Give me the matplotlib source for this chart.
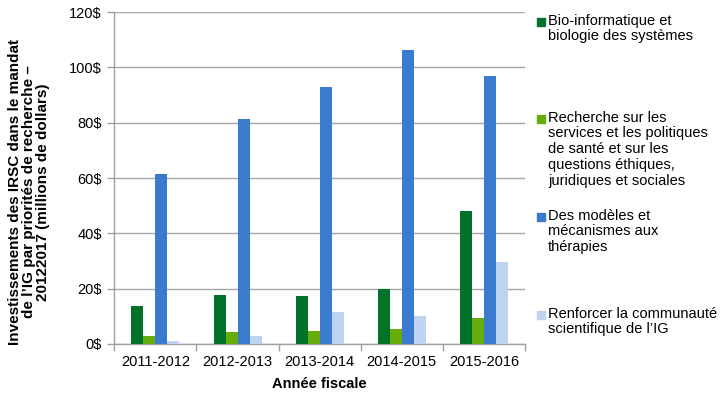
import matplotlib
matplotlib.use("Agg")
import matplotlib.pyplot as plt
import numpy as np
from matplotlib.patches import Rectangle

plt.rcParams['font.family'] = ['Liberation Sans', 'DejaVu Sans']

years = ["2011-2012", "2012-2013", "2013-2014", "2014-2015", "2015-2016"]
bio = [13.8, 17.7, 17.4, 19.9, 48.1]
services = [2.9, 4.3, 4.7, 5.4, 9.4]
modeles = [61.5, 81.4, 93.0, 106.4, 97.0]
renforcer = [1.1, 2.9, 11.6, 10.1, 29.7]

series = [bio, services, modeles, renforcer]
labels = [
    "Bio-informatique et\nbiologie des systèmes",
    "Recherche sur les\nservices et les politiques\nde santé et sur les\nquestions éthiques,\njuridiques et sociales",
    "Des modèles et\nmécanismes aux\nthérapies",
    "Renforcer la communauté\nscientifique de l’IG",
]
colors = ["#00722A", "#66AC0A", "#3A7BD0", "#BDD3EF"]
yticks = [0, 20, 40, 60, 80, 100, 120]
ytick_labels = ["0$", "20$", "40$", "60$", "80$", "100$", "120$"]

fig = plt.figure(figsize=(7.24, 3.98), dpi=100)
ax = fig.add_axes([0.158, 0.1357, 0.567, 0.834])

x = np.arange(len(years))
w = 0.146
for i, (vals, c) in enumerate(zip(series, colors)):
    ax.bar(x + (i - 1.5) * w, vals, width=w, color=c, zorder=3)

ax.set_xlim(-0.5, len(years) - 0.5)
ax.set_ylim(0, 120)
ax.set_yticks(yticks)
ax.set_yticklabels(ytick_labels, fontsize=10.5)
ax.set_xticks(x)
ax.set_xticklabels(years, fontsize=10.5)
ax.tick_params(axis='x', length=0, pad=8)
ax.set_xticks(np.arange(-0.5, len(years), 1.0), minor=True)
ax.tick_params(axis='x', which='minor', length=5, color='#A0A0A0', width=1)
ax.tick_params(axis='y', length=5, color='#A0A0A0', width=1, pad=4)
ax.yaxis.grid(True, color='#A6A6A6', linewidth=1, zorder=0)
ax.set_axisbelow(True)
for s in ['top', 'right']:
    ax.spines[s].set_visible(False)
for s in ['left', 'bottom']:
    ax.spines[s].set_color('#A0A0A0')
    ax.spines[s].set_linewidth(1)

ax.set_xlabel("Année fiscale", fontsize=10.5, fontweight='bold', labelpad=6)
fig.text(0.040, 0.518,
         "Investissements des IRSC dans le mandat\nde l’IG par priorités de recherche –\n20122017 (millions de dollars)",
         rotation=90, ha='center', va='center', fontsize=11, fontweight='bold',
         linespacing=1.0)

# legend, manually placed
W, H = 724, 398
tops = [22, 119, 217, 315]
for lab, c, ty in zip(labels, colors, tops):
    fig.patches.append(Rectangle((537 / W, 1 - (ty + 4) / H), 8 / W, 8 / H,
                                 transform=fig.transFigure, color=c, figure=fig))
    fig.text(548 / W, 1 - (ty - 8.5) / H, lab, ha='left', va='top',
             fontsize=10.5, linespacing=1.17)

fig.savefig("out.png", dpi=100)
